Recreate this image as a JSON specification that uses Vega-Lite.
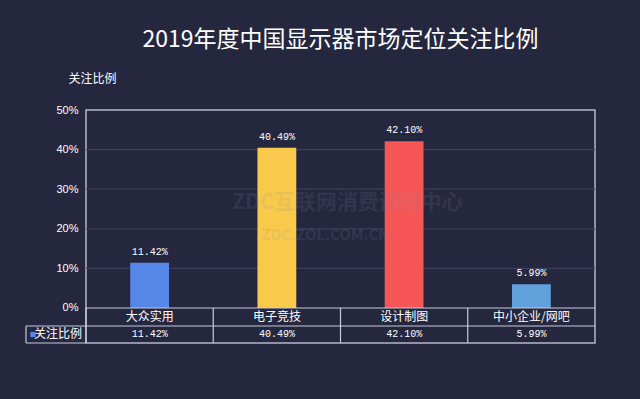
{
  "$schema": "https://vega.github.io/schema/vega-lite/v6.json",
  "width": 509,
  "height": 233,
  "autosize": {"type": "none"},
  "padding": {"left": 86, "top": 110, "right": 45, "bottom": 56},
  "background": "#25273f",
  "title": {
    "text": "2019年度中国显示器市场定位关注比例",
    "font": "Noto Sans CJK SC",
    "fontSize": 23,
    "fontWeight": "normal",
    "color": "#ffffff",
    "anchor": "middle",
    "frame": "group",
    "baseline": "alphabetic",
    "offset": 2
  },
  "config": {
    "view": {"stroke": "#b4b6cc", "strokeWidth": 1.5},
    "text": {"font": "Noto Sans CJK SC", "color": "#ffffff"}
  },
  "data": {
    "values": [
      {"cat": "大众实用", "value": 11.42, "label": "11.42%"},
      {"cat": "电子竞技", "value": 40.49, "label": "40.49%"},
      {"cat": "设计制图", "value": 42.10, "label": "42.10%"},
      {"cat": "中小企业/网吧", "value": 5.99, "label": "5.99%"}
    ]
  },
  "encoding": {
    "x": {
      "field": "cat",
      "type": "nominal",
      "sort": null,
      "scale": {"domain": ["大众实用", "电子竞技", "设计制图", "中小企业/网吧"], "paddingInner": 0, "paddingOuter": 0},
      "axis": null
    }
  },
  "layer": [
    {
      "data": {"values": [{"g": 10}, {"g": 20}, {"g": 30}, {"g": 40}]},
      "mark": {"type": "rule", "color": "#3c3f5a", "strokeWidth": 1.2},
      "encoding": {
        "x": null,
        "y": {
          "field": "g",
          "type": "quantitative",
          "scale": {"domain": [-8.84, 50], "nice": false, "zero": false},
          "axis": {
            "values": [0, 10, 20, 30, 40, 50],
            "labelExpr": "datum.value + '%'",
            "labelColor": "#ffffff",
            "labelFont": "Liberation Sans",
            "labelFontSize": 11,
            "labelPadding": 8,
            "labelOverlap": false,
            "labelBound": false,
            "labelFlush": false,
            "domain": false,
            "ticks": false,
            "grid": false,
            "title": "关注比例",
            "titleFont": "Noto Sans CJK SC",
            "titleFontSize": 12,
            "titleFontWeight": "normal",
            "titleColor": "#ffffff",
            "titleAngle": 0,
            "titleAlign": "left",
            "titleBaseline": "middle",
            "titleX": -18,
            "titleY": -32
          }
        }
      }
    },
    {
      "mark": {"type": "bar", "width": {"band": 0.305}},
      "encoding": {
        "y": {"field": "value", "type": "quantitative"},
        "color": {
          "field": "cat",
          "type": "nominal",
          "sort": null,
          "scale": {"range": ["#5686e8", "#f9c94b", "#f65656", "#62a2dc"]},
          "legend": null
        }
      }
    },
    {
      "data": {"values": [{"line": 0}, {"line": -4.545}]},
      "mark": {"type": "rule", "color": "#c8cade", "strokeWidth": 1.2},
      "encoding": {
        "x": null,
        "y": {"field": "line", "type": "quantitative"}
      }
    },
    {
      "data": {"values": [
        {"wm": "ZDC互联网消费调研中心", "pos": 26.6}
      ]},
      "mark": {"type": "text", "fontWeight": "bold", "fontSize": 21, "color": "#8a8ca0", "opacity": 0.14, "dx": 7, "baseline": "middle"},
      "encoding": {
        "x": {"datum": "设计制图", "bandPosition": 0},
        "y": {"field": "pos", "type": "quantitative"},
        "text": {"field": "wm"}
      }
    },
    {
      "data": {"values": [
        {"wm": "ZDC.ZOL.COM.CN", "pos": 18.5}
      ]},
      "mark": {"type": "text", "fontWeight": "bold", "fontSize": 15, "color": "#8a8ca0", "opacity": 0.14, "dx": -15, "baseline": "middle"},
      "encoding": {
        "x": {"datum": "设计制图", "bandPosition": 0},
        "y": {"field": "pos", "type": "quantitative"},
        "text": {"field": "wm"}
      }
    },
    {
      "mark": {"type": "text", "baseline": "bottom", "dy": -6, "font": "Liberation Mono", "fontSize": 10},
      "encoding": {
        "y": {"field": "value", "type": "quantitative"},
        "text": {"field": "label"}
      }
    },
    {
      "mark": {"type": "text", "baseline": "middle", "fontSize": 12},
      "encoding": {
        "y": {"datum": -2.27},
        "text": {"field": "cat"}
      }
    },
    {
      "mark": {"type": "text", "baseline": "middle", "font": "Liberation Mono", "fontSize": 10},
      "encoding": {
        "y": {"datum": -6.69},
        "text": {"field": "label"}
      }
    },
    {
      "mark": {"type": "rule", "color": "#c8cade", "strokeWidth": 1.2},
      "encoding": {
        "x": {"field": "cat", "type": "nominal", "sort": null, "bandPosition": 0},
        "y": {"datum": 0},
        "y2": {"datum": -8.84}
      }
    },
    {
      "data": {"values": [{"name": "关注比例", "top": -4.545, "bottom": -8.84}]},
      "layer": [
        {
          "mark": {"type": "rule", "color": "#c8cade", "strokeWidth": 1.2, "xOffset": -60},
          "encoding": {
            "x": {"datum": "大众实用", "bandPosition": 0},
            "y": {"field": "top", "type": "quantitative"},
            "y2": {"field": "bottom"}
          }
        },
        {
          "mark": {"type": "tick", "orient": "horizontal", "color": "#c8cade", "thickness": 1.2, "size": 60, "xOffset": -93.6, "opacity": 1},
          "encoding": {
            "x": {"datum": "大众实用"},
            "y": {"field": "top", "type": "quantitative"}
          }
        },
        {
          "mark": {"type": "tick", "orient": "horizontal", "color": "#c8cade", "thickness": 1.2, "size": 60, "xOffset": -93.6, "opacity": 1},
          "encoding": {
            "x": {"datum": "大众实用"},
            "y": {"field": "bottom", "type": "quantitative"}
          }
        },
        {
          "mark": {"type": "text", "align": "right", "baseline": "middle", "dx": -4, "fontSize": 12},
          "encoding": {
            "x": {"datum": "大众实用", "bandPosition": 0},
            "y": {"datum": -6.69},
            "text": {"field": "name"}
          }
        },
        {
          "mark": {"type": "point", "shape": "square", "filled": true, "size": 28, "opacity": 1, "color": "#5686e8", "xOffset": -53},
          "encoding": {
            "x": {"datum": "大众实用", "bandPosition": 0},
            "y": {"datum": -6.69}
          }
        }
      ]
    }
  ]
}
